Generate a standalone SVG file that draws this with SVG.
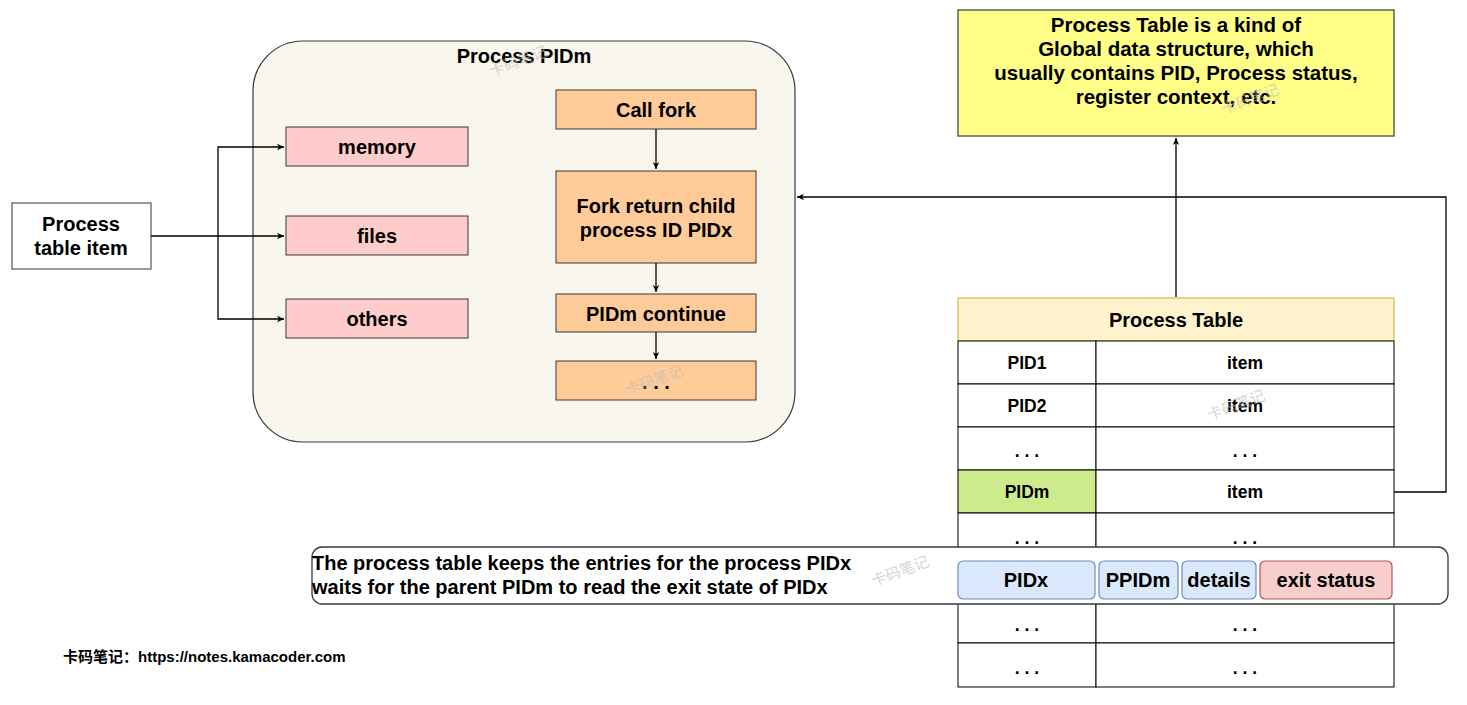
<svg xmlns="http://www.w3.org/2000/svg" width="1467" height="705" viewBox="0 0 1467 705">
<style>
text{font-family:"Liberation Sans",Arial,sans-serif;font-weight:bold;fill:#000;text-anchor:middle}
.t18{font-size:20px}
.t20{font-size:20.5px}
.t16{font-size:17.5px}
.pink{fill:#ffcccc;stroke:#36393d;stroke-width:1}
.orange{fill:#ffcc99;stroke:#36393d;stroke-width:1}
.cell{fill:#fff;stroke:#000;stroke-width:1}
.edge{fill:none;stroke:#000;stroke-width:1.3}
.wm{font-family:"Noto Sans CJK SC",sans-serif;font-weight:normal;font-size:15px;fill:#bbb;opacity:0.6}
</style>
<defs>
<marker id="ah" markerWidth="8" markerHeight="8" refX="7" refY="4" orient="auto" markerUnits="userSpaceOnUse">
<path d="M0,0.8 L7,4 L0,7.2 L2,4 Z" fill="#000"/>
</marker>
</defs>

<g id="process-pidm">
<rect x="253" y="41" width="542" height="401" rx="50" ry="50" fill="#f9f7ed" stroke="#36393d" stroke-width="1.2"/>
<text class="t18" x="524" y="63">Process PIDm</text>
</g>

<g id="process-table-item">
<rect x="12" y="203" width="139" height="66" fill="#fff" stroke="#555" stroke-width="1.2"/>
<text class="t18" x="81" y="231">Process</text>
<text class="t18" x="81" y="255">table item</text>
</g>

<g id="memory"><rect class="pink" x="286" y="127" width="182" height="39"/><text class="t18" x="377" y="154">memory</text></g>
<g id="files"><rect class="pink" x="286" y="216" width="182" height="39"/><text class="t18" x="377" y="243">files</text></g>
<g id="others"><rect class="pink" x="286" y="299" width="182" height="39"/><text class="t18" x="377" y="326">others</text></g>

<g id="call-fork"><rect class="orange" x="556" y="90" width="200" height="39"/><text class="t18" x="656" y="117">Call fork</text></g>
<g id="fork-return"><rect class="orange" x="556" y="171" width="200" height="92"/><text class="t18" x="656" y="213">Fork return child</text><text class="t18" x="656" y="237">process ID PIDx</text></g>
<g id="pidm-continue"><rect class="orange" x="556" y="294" width="200" height="38"/><text class="t18" x="656" y="321">PIDm continue</text></g>
<g id="dots"><rect class="orange" x="556" y="361" width="200" height="39"/><text class="t18" x="656" y="389">. . .</text></g>

<g id="note">
<rect x="958" y="10" width="436" height="126" fill="#ffff88" stroke="#36393d" stroke-width="1.2"/>
<text class="t20" x="1176" y="32">Process Table is a kind of</text>
<text class="t20" x="1176" y="56">Global data structure, which</text>
<text class="t20" x="1176" y="80">usually contains PID, Process status,</text>
<text class="t20" x="1176" y="104">register context, etc.</text>
</g>

<g id="process-table">
<rect x="958" y="298" width="436" height="43" fill="#fff2cc" stroke="#d6b656" stroke-width="1.2"/>
<text class="t18" x="1176" y="327">Process Table</text>
<rect class="cell" x="958" y="341" width="138" height="43"/><rect class="cell" x="1096" y="341" width="298" height="43"/>
<text class="t16" x="1027" y="369">PID1</text><text class="t16" x="1245" y="369">item</text>
<rect class="cell" x="958" y="384" width="138" height="43"/><rect class="cell" x="1096" y="384" width="298" height="43"/>
<text class="t16" x="1027" y="412">PID2</text><text class="t16" x="1245" y="412">item</text>
<rect class="cell" x="958" y="427" width="138" height="43"/><rect class="cell" x="1096" y="427" width="298" height="43"/>
<text class="t16" x="1027" y="457">. . .</text><text class="t16" x="1245" y="457">. . .</text>
<rect x="958" y="470" width="138" height="43" fill="#cdeb8b" stroke="#000" stroke-width="1"/><rect class="cell" x="1096" y="470" width="298" height="43"/>
<text class="t16" x="1027" y="498">PIDm</text><text class="t16" x="1245" y="498">item</text>
<rect class="cell" x="958" y="513" width="138" height="43"/><rect class="cell" x="1096" y="513" width="298" height="43"/>
<text class="t16" x="1027" y="544">. . .</text><text class="t16" x="1245" y="544">. . .</text>
<rect class="cell" x="958" y="556" width="138" height="44"/><rect class="cell" x="1096" y="556" width="298" height="44"/>
<rect class="cell" x="958" y="600" width="138" height="43"/><rect class="cell" x="1096" y="600" width="298" height="43"/>
<text class="t16" x="1027" y="631">. . .</text><text class="t16" x="1245" y="631">. . .</text>
<rect class="cell" x="958" y="643" width="138" height="44"/><rect class="cell" x="1096" y="643" width="298" height="44"/>
<text class="t16" x="1027" y="674">. . .</text><text class="t16" x="1245" y="674">. . .</text>
</g>

<g id="zombie-entry">
<rect x="312" y="547" width="1136" height="57" rx="10" ry="10" fill="#fff" stroke="#36393d" stroke-width="1.3"/>
<text class="t18" x="312" y="570" style="text-anchor:start">The process table keeps the entries for the process PIDx</text>
<text class="t18" x="312" y="594" style="text-anchor:start">waits for the parent PIDm to read the exit state of PIDx</text>
<rect x="958" y="561" width="137" height="38" rx="5" fill="#dae8fc" stroke="#6c8ebf" stroke-width="1.2"/>
<text class="t18" x="1026" y="587">PIDx</text>
<rect x="1099" y="561" width="79" height="38" rx="5" fill="#dae8fc" stroke="#6c8ebf" stroke-width="1.2"/>
<text class="t18" x="1138" y="587">PPIDm</text>
<rect x="1182" y="561" width="74" height="38" rx="5" fill="#dae8fc" stroke="#6c8ebf" stroke-width="1.2"/>
<text class="t18" x="1219" y="587">details</text>
<rect x="1260" y="561" width="132" height="38" rx="5" fill="#f8cecc" stroke="#b85450" stroke-width="1.2"/>
<text class="t18" x="1326" y="587">exit status</text>
</g>

<g id="connectors">
<path class="edge" d="M151,236 L284,236" marker-end="url(#ah)"/>
<path class="edge" d="M218,236 L218,147 L284,147" marker-end="url(#ah)"/>
<path class="edge" d="M218,236 L218,319 L284,319" marker-end="url(#ah)"/>
<path class="edge" d="M656,129 L656,169" marker-end="url(#ah)"/>
<path class="edge" d="M656,263 L656,292" marker-end="url(#ah)"/>
<path class="edge" d="M656,332 L656,359" marker-end="url(#ah)"/>
<path class="edge" d="M1176,297 L1176,138" marker-end="url(#ah)"/>
<path class="edge" d="M1394,492 L1446,492 L1446,197 L797,197" marker-end="url(#ah)"/>
</g>

<text x="63" y="662" style="text-anchor:start;font-size:15px;font-family:'Liberation Sans','Noto Sans CJK SC',sans-serif">卡码笔记：https://notes.kamacoder.com</text>

<g id="watermarks">
<text class="wm" x="520" y="66" transform="rotate(-20 520 66)">卡码笔记</text>
<text class="wm" x="656" y="385" transform="rotate(-20 656 385)">卡码笔记</text>
<text class="wm" x="1252" y="104" transform="rotate(-20 1252 104)">卡码笔记</text>
<text class="wm" x="1238" y="410" transform="rotate(-20 1238 410)">卡码笔记</text>
<text class="wm" x="902" y="576" transform="rotate(-20 902 576)">卡码笔记</text>
</g>
</svg>
